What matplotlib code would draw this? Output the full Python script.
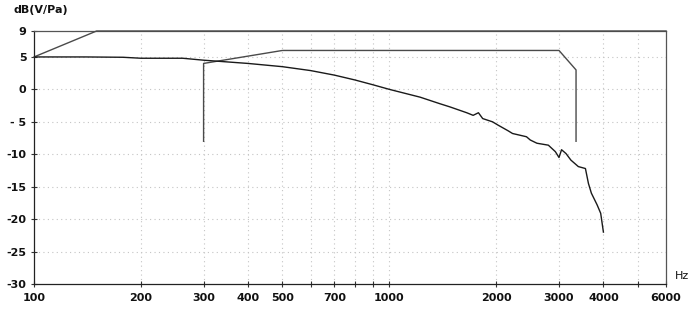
import matplotlib
matplotlib.use("Agg")
import matplotlib.pyplot as plt
from matplotlib.ticker import FixedLocator, NullFormatter

# Frequency response (Hz, dB(V/Pa))
resp_freq = [100, 140, 178, 200, 262, 300, 318, 400, 500, 600, 700, 800, 900, 1000,
             1220, 1385, 1480, 1650, 1720, 1780, 1830, 1950, 2020, 2160, 2220, 2430,
             2490, 2600, 2800, 2930, 3000, 3050, 3140, 3240, 3400, 3560, 3630, 3700,
             3840, 3930, 4000]
resp_db = [5.0, 5.0, 4.95, 4.8, 4.8, 4.5, 4.4, 4.0, 3.5, 2.9, 2.2, 1.45, 0.7, 0.0,
           -1.2, -2.2, -2.7, -3.6, -4.0, -3.6, -4.5, -5.0, -5.5, -6.4, -6.8, -7.3,
           -7.8, -8.3, -8.6, -9.6, -10.5, -9.3, -9.9, -10.9, -11.9, -12.2, -14.5, -16.0,
           -17.8, -19.1, -22.0]

# Upper tolerance mask
upper_freq = [100, 150, 6000]
upper_db = [5, 9, 9]

# Lower tolerance mask
lower_freq = [300, 300, 500, 3000, 3350, 3350]
lower_db = [-8, 4, 6, 6, 3, -8]

y_ticks = [9, 5, 0, -5, -10, -15, -20, -25, -30]
y_labels = ["9", "5", "0", "- 5", "-10", "-15", "-20", "-25", "-30"]
x_major = [100, 200, 300, 400, 500, 700, 1000, 2000, 3000, 4000, 6000]
x_labels = ["100", "200", "300", "400", "500", "700", "1000", "2000", "3000", "4000", "6000"]
x_minor = [600, 800, 900, 5000]

fig = plt.figure(figsize=(7.0, 3.12), dpi=100)
ax = fig.add_axes([34 / 700, 1 - 284 / 312, (666 - 34) / 700, (284 - 31) / 312])

ax.set_xscale("log")
ax.set_xlim(100, 6000)
ax.set_ylim(-30, 9)

grid_kw = dict(color="#c4c4c4", linestyle=(0, (1, 3)), linewidth=0.8, zorder=0)
for y in y_ticks[1:-1]:
    ax.axhline(y, **grid_kw)
for x in x_major[1:-1] + x_minor:
    ax.axvline(x, **grid_kw)

ax.plot(upper_freq, upper_db, color="#4a4a4a", linewidth=1.0, zorder=3, clip_on=False)
ax.plot(lower_freq, lower_db, color="#4a4a4a", linewidth=1.0, zorder=3)
ax.plot(resp_freq, resp_db, color="#1a1a1a", linewidth=1.0, zorder=4)

ax.xaxis.set_major_locator(FixedLocator(x_major))
ax.set_xticklabels(x_labels)
ax.xaxis.set_minor_locator(FixedLocator(x_minor))
ax.xaxis.set_minor_formatter(NullFormatter())
ax.set_yticks(y_ticks)
ax.set_yticklabels(y_labels)

ax.tick_params(axis="both", which="both", direction="inout", length=5, width=0.8,
               color="#333333", labelsize=8, labelcolor="#111111")
ax.tick_params(axis="x", which="major", pad=4)
ax.tick_params(axis="y", which="major", pad=3)
for lab in ax.get_xticklabels() + ax.get_yticklabels():
    lab.set_fontweight("bold")

for s in ax.spines.values():
    s.set_color("#555555")
    s.set_linewidth(0.9)
ax.spines["left"].set_color("#222222")
ax.spines["bottom"].set_color("#222222")

fig.text(13 / 700, 1 - 10 / 312, "dB(V/Pa)", fontsize=8, fontweight="bold",
         ha="left", va="center", color="#111111")
fig.text(675 / 700, 1 - 276 / 312, "Hz", fontsize=8, ha="left", va="center",
         color="#111111")

fig.savefig("out.png", dpi=100)
